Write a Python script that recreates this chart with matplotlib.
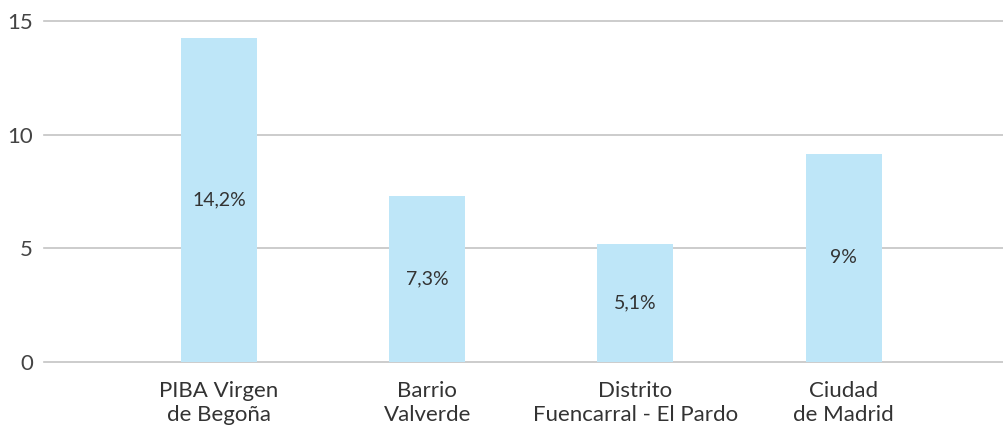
import matplotlib.pyplot as plt

categories = ['PIBA Virgen\nde Begoña', 'Barrio\nValverde',
              'Distrito\nFuencarral - El Pardo', 'Ciudad\nde Madrid']
values = [14.25, 7.3, 5.2, 9.15]
value_labels = ['14,2%', '7,3%', '5,1%', '9%']
yticks = [0, 5, 10, 15]


def main():
    plt.rcParams['font.family'] = ['Lato', 'DejaVu Sans']
    fig = plt.figure(figsize=(10.04, 4.38), dpi=100)
    ax = fig.add_axes([44 / 1004, 76 / 438, 960 / 1004, 341 / 438])

    x = list(range(len(categories)))
    ax.bar(x, values, width=0.365, color='#bee6f8', zorder=2)

    # Labels inside the bars
    for xi, v, lab in zip(x, values, value_labels):
        ax.text(xi, v / 2, lab, ha='center', va='center', fontsize=14,
                color='#333333', zorder=3)

    ax.set_ylim(0, 15)
    ax.set_xlim(-0.84, 3.77)
    ax.set_yticks(yticks)
    ax.set_xticks(x)
    ax.set_xticklabels(categories, fontsize=16, color='#333333',
                       linespacing=1.2)
    for lab in ax.get_yticklabels():
        lab.set_fontsize(16)
        lab.set_color('#444444')

    # Horizontal grid lines, drawn unclipped so the edges stay full width
    for t in yticks:
        ax.axhline(t, color='#c4c4c4', linewidth=1.2, zorder=1, clip_on=False)
    for s in ax.spines.values():
        s.set_visible(False)
    ax.tick_params(axis='both', length=0)
    ax.tick_params(axis='x', pad=14)
    ax.tick_params(axis='y', pad=8)

    fig.savefig('out.png', dpi=100)
    plt.close()


if __name__ == "__main__":
    main()
